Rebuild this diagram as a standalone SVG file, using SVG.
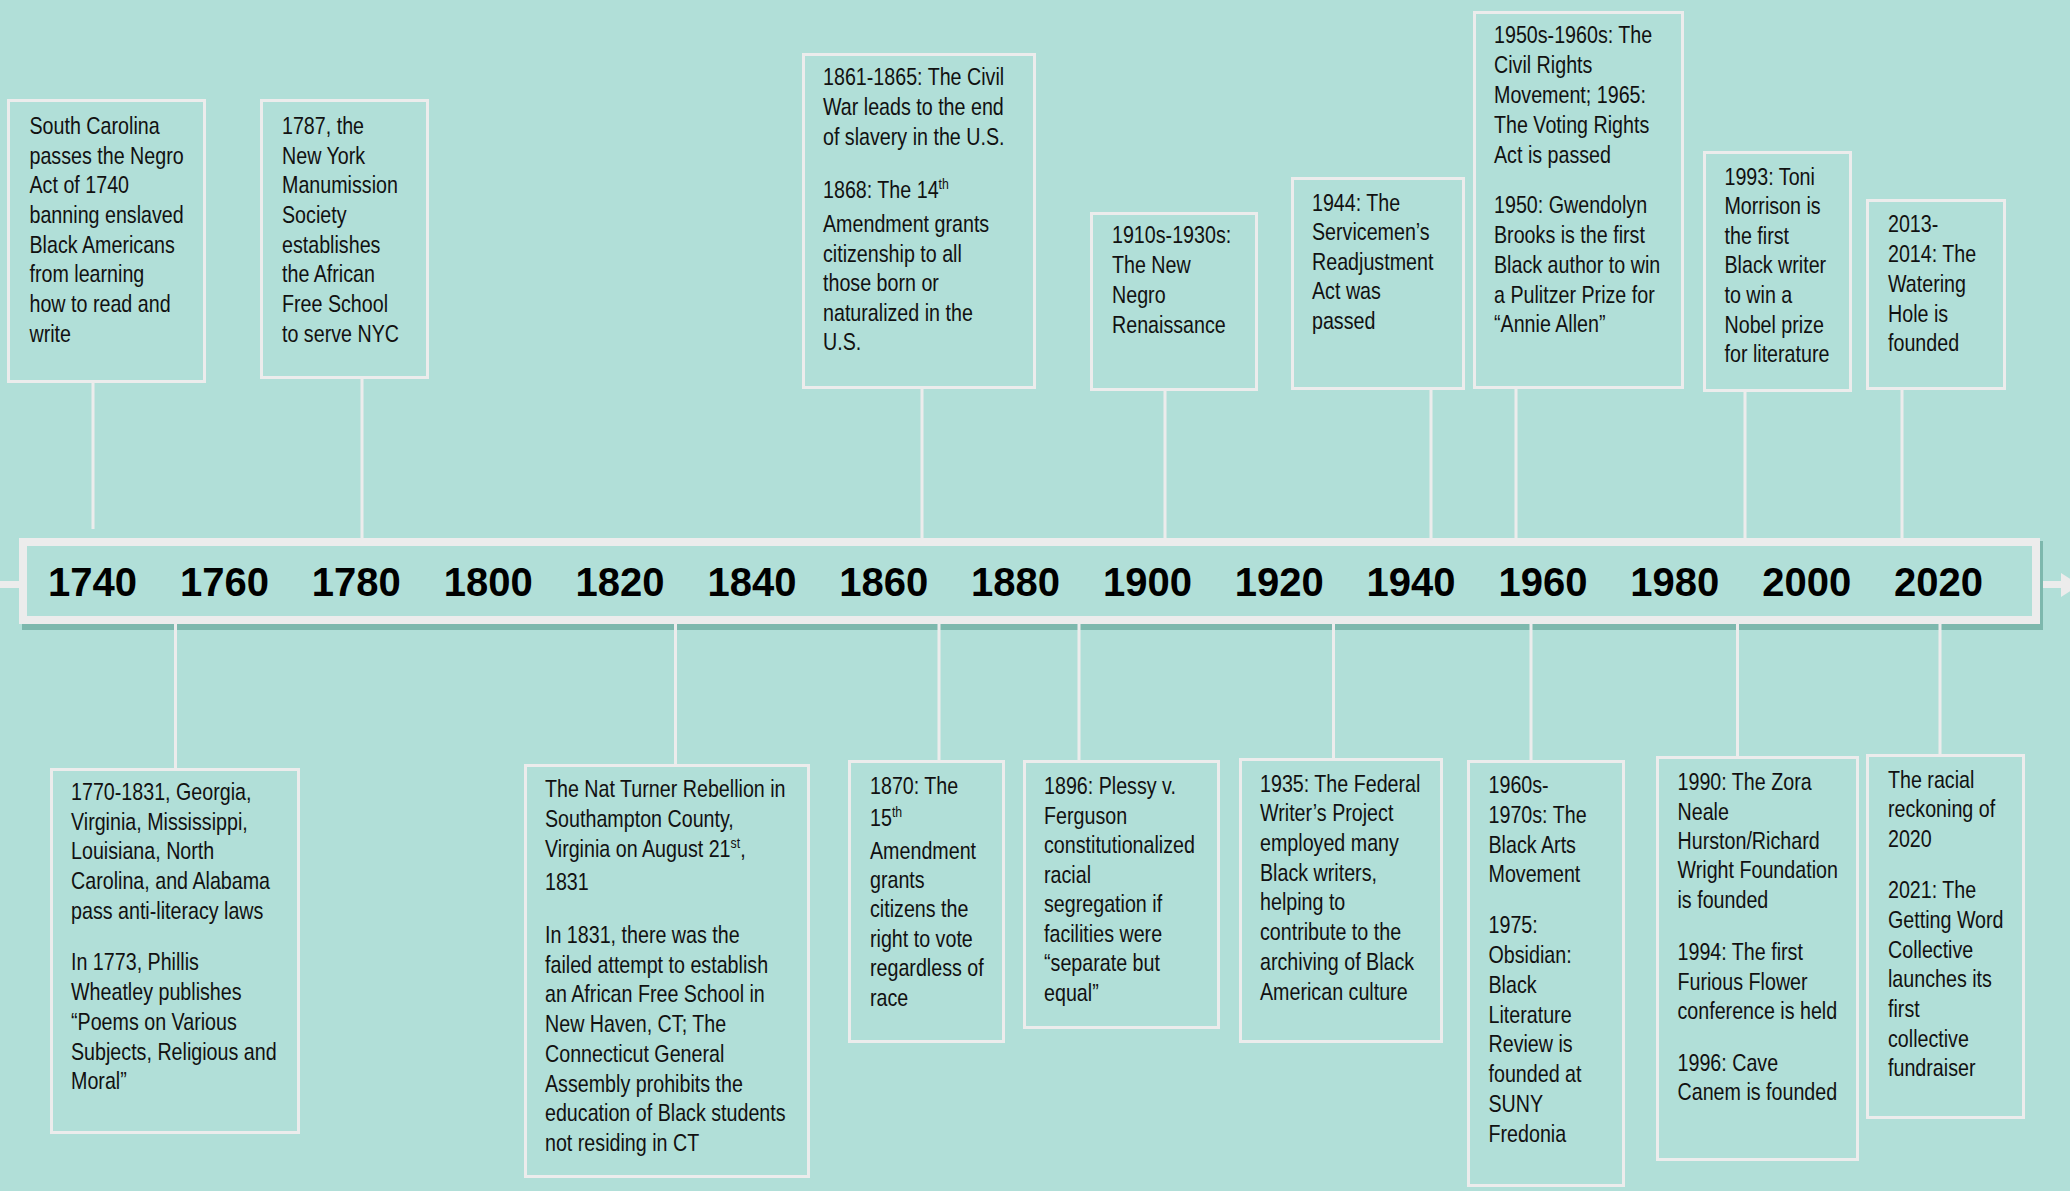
<svg xmlns="http://www.w3.org/2000/svg" width="2070" height="1191" viewBox="0 0 2070 1191">
<style>
.bg{fill:#b1dfd8}
.box{fill:#b1dfd8;stroke:#ececec;stroke-width:3}
.conn{stroke:#ececec;stroke-width:3;fill:none}
.t{font-family:"Liberation Sans",Arial,sans-serif;font-size:24px;fill:#111}
.sup{font-size:15px}
.yr{font-family:"Liberation Sans",Arial,sans-serif;font-weight:bold;font-size:40px;fill:#000;text-anchor:middle}
</style>
<rect class="bg" x="0" y="0" width="2070" height="1191"/>

<g id="connectors">
  <line x1="0" y1="584.5" x2="2062" y2="584.5" stroke="#ececec" stroke-width="7"/>
  <polygon points="2061,573 2061,597 2080,585" fill="#ececec"/>
  <line class="conn" x1="93" y1="383" x2="93" y2="529"/>
  <line class="conn" x1="362" y1="379" x2="362" y2="540"/>
  <line class="conn" x1="922" y1="389" x2="922" y2="540"/>
  <line class="conn" x1="1165" y1="391" x2="1165" y2="540"/>
  <line class="conn" x1="1431" y1="390" x2="1431" y2="540"/>
  <line class="conn" x1="1516" y1="389" x2="1516" y2="540"/>
  <line class="conn" x1="1745" y1="392" x2="1745" y2="540"/>
  <line class="conn" x1="1902" y1="390" x2="1902" y2="540"/>
</g>

<g id="timeline">
  <rect x="22" y="541" width="2021" height="89" fill="#7db8ad"/>
  <rect x="23" y="542" width="2013" height="78" fill="#b1dfd8" stroke="#ececec" stroke-width="8"/>
  <text class="yr" x="92.6" y="596">1740</text>
  <text class="yr" x="224.5" y="596">1760</text>
  <text class="yr" x="356.3" y="596">1780</text>
  <text class="yr" x="488.2" y="596">1800</text>
  <text class="yr" x="620" y="596">1820</text>
  <text class="yr" x="751.9" y="596">1840</text>
  <text class="yr" x="883.7" y="596">1860</text>
  <text class="yr" x="1015.6" y="596">1880</text>
  <text class="yr" x="1147.4" y="596">1900</text>
  <text class="yr" x="1279.3" y="596">1920</text>
  <text class="yr" x="1411.1" y="596">1940</text>
  <text class="yr" x="1543" y="596">1960</text>
  <text class="yr" x="1674.8" y="596">1980</text>
  <text class="yr" x="1806.7" y="596">2000</text>
  <text class="yr" x="1938.5" y="596">2020</text>
</g>

<g id="connectors-bottom">
  <line class="conn" x1="175.5" y1="624" x2="175.5" y2="768"/>
  <line class="conn" x1="675.5" y1="624" x2="675.5" y2="764"/>
  <line class="conn" x1="939" y1="624" x2="939" y2="760"/>
  <line class="conn" x1="1079" y1="624" x2="1079" y2="760"/>
  <line class="conn" x1="1333.5" y1="624" x2="1333.5" y2="758"/>
  <line class="conn" x1="1531" y1="624" x2="1531" y2="760"/>
  <line class="conn" x1="1737.5" y1="624" x2="1737.5" y2="756"/>
  <line class="conn" x1="1940" y1="624" x2="1940" y2="754"/>
</g>

<g id="node-1740">
  <rect class="box" x="8.5" y="100.5" width="196" height="281"/>
  <g transform="matrix(0.82 0 0 1 5.31 0)">
  <text class="t">
    <tspan x="29.5" y="134">South Carolina</tspan>
    <tspan x="29.5" y="163.7">passes the Negro</tspan>
    <tspan x="29.5" y="193.4">Act of 1740</tspan>
    <tspan x="29.5" y="223.1">banning enslaved</tspan>
    <tspan x="29.5" y="252.8">Black Americans</tspan>
    <tspan x="29.5" y="282.5">from learning</tspan>
    <tspan x="29.5" y="312.2">how to read and</tspan>
    <tspan x="29.5" y="341.9">write</tspan>
  </text>
  </g>
</g>

<g id="node-1787">
  <rect class="box" x="261.5" y="100.5" width="166" height="277"/>
  <g transform="matrix(0.82 0 0 1 50.76 0)">
  <text class="t">
    <tspan x="282" y="134">1787, the</tspan>
    <tspan x="282" y="163.7">New York</tspan>
    <tspan x="282" y="193.4">Manumission</tspan>
    <tspan x="282" y="223.1">Society</tspan>
    <tspan x="282" y="252.8">establishes</tspan>
    <tspan x="282" y="282.5">the African</tspan>
    <tspan x="282" y="312.2">Free School</tspan>
    <tspan x="282" y="341.9">to serve NYC</tspan>
  </text>
  </g>
</g>

<g id="node-1861">
  <rect class="box" x="803.5" y="54.5" width="231" height="333"/>
  <g transform="matrix(0.82 0 0 1 148.14 0)">
  <text class="t">
    <tspan x="823" y="85">1861-1865: The Civil</tspan>
    <tspan x="823" y="115">War leads to the end</tspan>
    <tspan x="823" y="145">of slavery in the U.S.</tspan>
  </text>
  <text class="t" x="823" y="198">1868: The 14<tspan class="sup" dy="-9">th</tspan></text>
  <text class="t">
    <tspan x="823" y="232">Amendment grants</tspan>
    <tspan x="823" y="262">citizenship to all</tspan>
    <tspan x="823" y="291">those born or</tspan>
    <tspan x="823" y="321">naturalized in the</tspan>
    <tspan x="823" y="350">U.S.</tspan>
  </text>
  </g>
</g>

<g id="node-1910s">
  <rect class="box" x="1091.5" y="213.5" width="165" height="176"/>
  <g transform="matrix(0.82 0 0 1 200.16 0)">
  <text class="t">
    <tspan x="1112" y="243">1910s-1930s:</tspan>
    <tspan x="1112" y="273">The New</tspan>
    <tspan x="1112" y="303">Negro</tspan>
    <tspan x="1112" y="333">Renaissance</tspan>
  </text>
  </g>
</g>

<g id="node-1944">
  <rect class="box" x="1292.5" y="178.5" width="171" height="210"/>
  <g transform="matrix(0.82 0 0 1 236.16 0)">
  <text class="t">
    <tspan x="1312" y="211">1944: The</tspan>
    <tspan x="1312" y="240.5">Servicemen’s</tspan>
    <tspan x="1312" y="270">Readjustment</tspan>
    <tspan x="1312" y="299.5">Act was</tspan>
    <tspan x="1312" y="329">passed</tspan>
  </text>
  </g>
</g>

<g id="node-1950s">
  <rect class="box" x="1474.5" y="12.5" width="208" height="375"/>
  <g transform="matrix(0.82 0 0 1 268.92 0)">
  <text class="t">
    <tspan x="1494" y="43">1950s-1960s: The</tspan>
    <tspan x="1494" y="73">Civil Rights</tspan>
    <tspan x="1494" y="103">Movement; 1965:</tspan>
    <tspan x="1494" y="133">The Voting Rights</tspan>
    <tspan x="1494" y="163">Act is passed</tspan>
    <tspan x="1494" y="213">1950: Gwendolyn</tspan>
    <tspan x="1494" y="243">Brooks is the first</tspan>
    <tspan x="1494" y="273">Black author to win</tspan>
    <tspan x="1494" y="303">a Pulitzer Prize for</tspan>
    <tspan x="1494" y="332">“Annie Allen”</tspan>
  </text>
  </g>
</g>

<g id="node-1993">
  <rect class="box" x="1704.5" y="152.5" width="146" height="238"/>
  <g transform="matrix(0.82 0 0 1 310.41 0)">
  <text class="t">
    <tspan x="1724.5" y="185">1993: Toni</tspan>
    <tspan x="1724.5" y="214.5">Morrison is</tspan>
    <tspan x="1724.5" y="244">the first</tspan>
    <tspan x="1724.5" y="273.5">Black writer</tspan>
    <tspan x="1724.5" y="303">to win a</tspan>
    <tspan x="1724.5" y="333">Nobel prize</tspan>
    <tspan x="1724.5" y="362">for literature</tspan>
  </text>
  </g>
</g>

<g id="node-2013">
  <rect class="box" x="1867.5" y="200.5" width="137" height="188"/>
  <g transform="matrix(0.82 0 0 1 339.84 0)">
  <text class="t">
    <tspan x="1888" y="232">2013-</tspan>
    <tspan x="1888" y="262">2014: The</tspan>
    <tspan x="1888" y="292">Watering</tspan>
    <tspan x="1888" y="322">Hole is</tspan>
    <tspan x="1888" y="351">founded</tspan>
  </text>
  </g>
</g>

<g id="node-1770">
  <rect class="box" x="51.5" y="769.5" width="247" height="363"/>
  <g transform="matrix(0.82 0 0 1 12.78 0)">
  <text class="t">
    <tspan x="71" y="800">1770-1831, Georgia,</tspan>
    <tspan x="71" y="830">Virginia, Mississippi,</tspan>
    <tspan x="71" y="859.5">Louisiana, North</tspan>
    <tspan x="71" y="889">Carolina, and Alabama</tspan>
    <tspan x="71" y="919">pass anti-literacy laws</tspan>
    <tspan x="71" y="970">In 1773, Phillis</tspan>
    <tspan x="71" y="1000">Wheatley publishes</tspan>
    <tspan x="71" y="1030">“Poems on Various</tspan>
    <tspan x="71" y="1060">Subjects, Religious and</tspan>
    <tspan x="71" y="1089">Moral”</tspan>
  </text>
  </g>
</g>

<g id="node-1831">
  <rect class="box" x="525.5" y="765.5" width="283" height="411"/>
  <g transform="matrix(0.82 0 0 1 98.1 0)">
  <text class="t">
    <tspan x="545" y="797">The Nat Turner Rebellion in</tspan>
    <tspan x="545" y="827">Southampton County,</tspan>
  </text>
  <text class="t" x="545" y="857">Virginia on August 21<tspan class="sup" dy="-9">st</tspan><tspan dy="9">,</tspan></text>
  <text class="t">
    <tspan x="545" y="890">1831</tspan>
    <tspan x="545" y="943">In 1831, there was the</tspan>
    <tspan x="545" y="973">failed attempt to establish</tspan>
    <tspan x="545" y="1002.5">an African Free School in</tspan>
    <tspan x="545" y="1032">New Haven, CT; The</tspan>
    <tspan x="545" y="1062">Connecticut General</tspan>
    <tspan x="545" y="1092">Assembly prohibits the</tspan>
    <tspan x="545" y="1121.5">education of Black students</tspan>
    <tspan x="545" y="1151">not residing in CT</tspan>
  </text>
  </g>
</g>

<g id="node-1870">
  <rect class="box" x="849.5" y="761.5" width="154" height="280"/>
  <g transform="matrix(0.82 0 0 1 156.6 0)">
  <text class="t" x="870" y="794">1870: The</text>
  <text class="t" x="870" y="826">15<tspan class="sup" dy="-9">th</tspan></text>
  <text class="t">
    <tspan x="870" y="859">Amendment</tspan>
    <tspan x="870" y="888.5">grants</tspan>
    <tspan x="870" y="917.5">citizens the</tspan>
    <tspan x="870" y="947">right to vote</tspan>
    <tspan x="870" y="976.5">regardless of</tspan>
    <tspan x="870" y="1006">race</tspan>
  </text>
  </g>
</g>

<g id="node-1896">
  <rect class="box" x="1024.5" y="761.5" width="194" height="266"/>
  <g transform="matrix(0.82 0 0 1 187.92 0)">
  <text class="t">
    <tspan x="1044" y="794">1896: Plessy v.</tspan>
    <tspan x="1044" y="824">Ferguson</tspan>
    <tspan x="1044" y="853.5">constitutionalized</tspan>
    <tspan x="1044" y="883">racial</tspan>
    <tspan x="1044" y="912">segregation if</tspan>
    <tspan x="1044" y="942">facilities were</tspan>
    <tspan x="1044" y="971.5">“separate but</tspan>
    <tspan x="1044" y="1001">equal”</tspan>
  </text>
  </g>
</g>

<g id="node-1935">
  <rect class="box" x="1240.5" y="759.5" width="201" height="282"/>
  <g transform="matrix(0.82 0 0 1 226.8 0)">
  <text class="t">
    <tspan x="1260" y="792">1935: The Federal</tspan>
    <tspan x="1260" y="821.5">Writer’s Project</tspan>
    <tspan x="1260" y="851">employed many</tspan>
    <tspan x="1260" y="881">Black writers,</tspan>
    <tspan x="1260" y="910.5">helping to</tspan>
    <tspan x="1260" y="940">contribute to the</tspan>
    <tspan x="1260" y="970">archiving of Black</tspan>
    <tspan x="1260" y="1000">American culture</tspan>
  </text>
  </g>
</g>

<g id="node-1960s">
  <rect class="box" x="1468.5" y="761.5" width="155" height="424"/>
  <g transform="matrix(0.82 0 0 1 267.93 0)">
  <text class="t">
    <tspan x="1488.5" y="793.5">1960s-</tspan>
    <tspan x="1488.5" y="823.5">1970s: The</tspan>
    <tspan x="1488.5" y="853">Black Arts</tspan>
    <tspan x="1488.5" y="882.5">Movement</tspan>
    <tspan x="1488.5" y="933.5">1975:</tspan>
    <tspan x="1488.5" y="963">Obsidian:</tspan>
    <tspan x="1488.5" y="993">Black</tspan>
    <tspan x="1488.5" y="1023">Literature</tspan>
    <tspan x="1488.5" y="1052.5">Review is</tspan>
    <tspan x="1488.5" y="1082.5">founded at</tspan>
    <tspan x="1488.5" y="1112">SUNY</tspan>
    <tspan x="1488.5" y="1142">Fredonia</tspan>
  </text>
  </g>
</g>

<g id="node-1990">
  <rect class="box" x="1657.5" y="757.5" width="200" height="402"/>
  <g transform="matrix(0.82 0 0 1 301.95 0)">
  <text class="t">
    <tspan x="1677.5" y="790">1990: The Zora</tspan>
    <tspan x="1677.5" y="820">Neale</tspan>
    <tspan x="1677.5" y="849.5">Hurston/Richard</tspan>
    <tspan x="1677.5" y="878.5">Wright Foundation</tspan>
    <tspan x="1677.5" y="908.5">is founded</tspan>
    <tspan x="1677.5" y="960">1994: The first</tspan>
    <tspan x="1677.5" y="990">Furious Flower</tspan>
    <tspan x="1677.5" y="1019.5">conference is held</tspan>
    <tspan x="1677.5" y="1071">1996: Cave</tspan>
    <tspan x="1677.5" y="1100">Canem is founded</tspan>
  </text>
  </g>
</g>

<g id="node-2020">
  <rect class="box" x="1867.5" y="755.5" width="156" height="362"/>
  <g transform="matrix(0.82 0 0 1 339.84 0)">
  <text class="t">
    <tspan x="1888" y="788">The racial</tspan>
    <tspan x="1888" y="817.5">reckoning of</tspan>
    <tspan x="1888" y="847">2020</tspan>
    <tspan x="1888" y="898.5">2021: The</tspan>
    <tspan x="1888" y="928">Getting Word</tspan>
    <tspan x="1888" y="958">Collective</tspan>
    <tspan x="1888" y="987.5">launches its</tspan>
    <tspan x="1888" y="1017">first</tspan>
    <tspan x="1888" y="1047">collective</tspan>
    <tspan x="1888" y="1076.5">fundraiser</tspan>
  </text>
  </g>
</g>
</svg>
